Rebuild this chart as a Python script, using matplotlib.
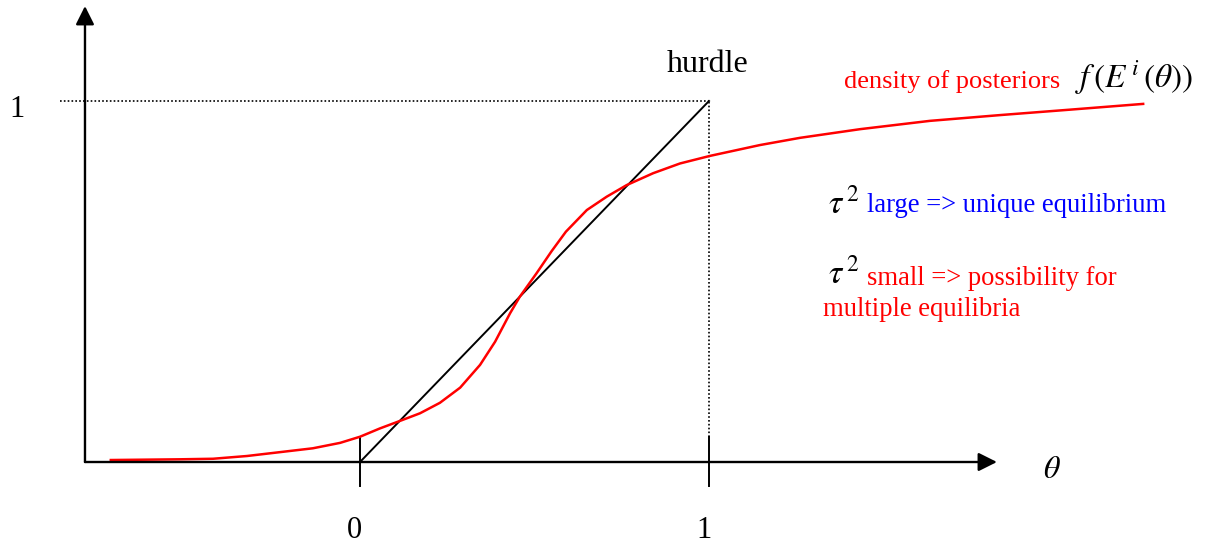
import numpy as np
import matplotlib
matplotlib.use("Agg")
import matplotlib.pyplot as plt

plt.rcParams['font.family'] = ['Liberation Serif', 'DejaVu Serif']
plt.rcParams['mathtext.fontset'] = 'stix'

# red curve: density of posteriors
theta_pts = [-0.714, -0.516, -0.421, -0.324, -0.135, -0.057, 0.0, 0.057, 0.115, 0.172,
             0.229, 0.287, 0.344, 0.387, 0.430, 0.458, 0.506, 0.549, 0.590, 0.650,
             0.707, 0.764, 0.840, 0.917, 1.003, 1.146, 1.261, 1.433, 1.633, 1.834,
             2.034, 2.244]
density_pts = [0.0055, 0.0075, 0.009, 0.0166, 0.038, 0.053, 0.070, 0.093, 0.114, 0.135,
               0.164, 0.206, 0.269, 0.333, 0.412, 0.458, 0.523, 0.584, 0.638, 0.698,
               0.735, 0.767, 0.800, 0.827, 0.848, 0.878, 0.898, 0.922, 0.945, 0.961,
               0.976, 0.992]

# hurdle line (45 degree)
hurdle_x = [0.0, 1.0]
hurdle_y = [0.0, 1.0]

tick_pos = [0.0, 1.0]
tick_labels = ["0", "1"]

fig = plt.figure(figsize=(12.08, 5.45), dpi=100)
ax = fig.add_axes([0, 0, 1, 1])
ax.set_xlim(-1.0315, 2.4298)
ax.set_ylim(-0.2299, 1.2798)
ax.axis('off')

# axes with arrows
ax.annotate('', xy=(1.825, 0), xytext=(-0.788, 0),
            arrowprops=dict(arrowstyle='-|>', lw=1.7, color='black',
                            mutation_scale=28, shrinkA=0, shrinkB=0))
ax.annotate('', xy=(-0.788, 1.263), xytext=(-0.788, 0),
            arrowprops=dict(arrowstyle='-|>', lw=1.7, color='black',
                            mutation_scale=28, shrinkA=0, shrinkB=0))

# dotted guides
ax.plot([-0.86, 1.0], [1.0, 1.0], color='black', lw=1.2, ls=(0, (1, 1.3)))
ax.plot([1.0, 1.0], [0.07, 1.0], color='black', lw=1.2, ls=(0, (1, 1.3)))

# ticks
for t in tick_pos:
    ax.plot([t, t], [-0.066, 0.07], color='black', lw=1.4)

ax.plot(hurdle_x, hurdle_y, color='black', lw=1.4)
ax.plot(theta_pts, density_pts, color='#ff0000', lw=1.8, solid_joinstyle='round')

for t, lab in zip(tick_pos, tick_labels):
    ax.text(t - 0.015, -0.211, lab, fontsize=22, ha='center', va='baseline')
ax.text(-0.983, 0.956, "1", fontsize=22, ha='center', va='baseline')
ax.text(1.957, -0.044, r'$\theta$', fontsize=23, ha='left', va='baseline')
ax.text(0.997, 1.080, "hurdle", fontsize=23, ha='center', va='baseline')

ax.text(1.387, 1.036, "density of posteriors", fontsize=19, color='#ff0000',
        ha='left', va='baseline')
ax.text(2.049, 1.036, r'$f\,(E^{\,i}\,(\theta))$', fontsize=24, ha='left', va='baseline')

ax.text(1.341, 0.690, r'$\tau^{\,2}$', fontsize=24, ha='left', va='baseline')
ax.text(1.453, 0.693, "large => unique equilibrium", fontsize=19.2, color='#0000ff',
        ha='left', va='baseline')
ax.text(1.341, 0.496, r'$\tau^{\,2}$', fontsize=24, ha='left', va='baseline')
ax.text(1.453, 0.490, "small => possibility for", fontsize=19.2, color='#ff0000',
        ha='left', va='baseline')
ax.text(1.327, 0.404, "multiple equilibria", fontsize=19.2, color='#ff0000',
        ha='left', va='baseline')

fig.savefig("out.png", dpi=100)
